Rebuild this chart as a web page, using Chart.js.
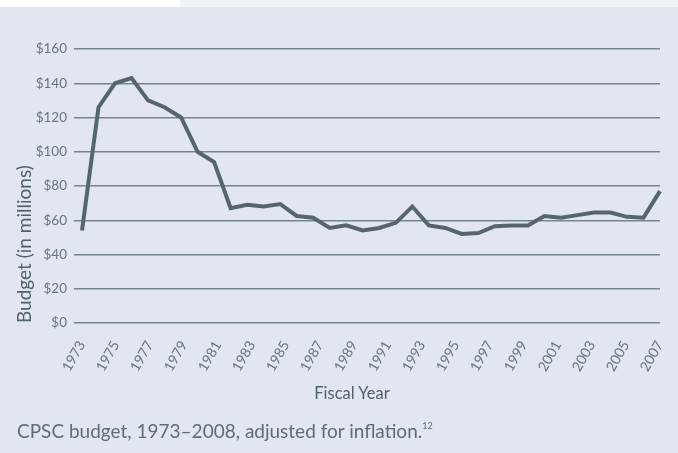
<!DOCTYPE html>
<html>
<head>
<meta charset="utf-8">
<script src="https://cdn.jsdelivr.net/npm/chart.js@4"></script>
<style>
  body { margin: 0; background: #e2e6ee; font-family: Lato, "Open Sans", sans-serif; }
  #wrap { position: relative; width: 678px; height: 453px; overflow: hidden; }
  #strip-white { position: absolute; left: 0; top: 0; width: 180px; height: 7px; background: #ffffff; }
  #strip-light { position: absolute; left: 180px; top: 0; width: 498px; height: 7px; background: #eff2f6; }
  #chart { position: absolute; left: 0; top: 0; }
  #xtitle { position: absolute; left: 292px; width: 120px; top: 383px; text-align: center;
            font-size: 16.5px; color: #50626a; }
  #caption { position: absolute; left: 17px; top: 419px; font-size: 19px; color: #5e6e75; }
  #caption sup { font-size: 9px; vertical-align: 9px; }
</style>
</head>
<body>
<div id="wrap">
  <div id="strip-white"></div>
  <div id="strip-light"></div>
  <canvas id="chart" width="678" height="453"></canvas>
  <div id="xtitle">Fiscal Year</div>
  <div id="caption">CPSC budget, 1973–2008, adjusted for inflation.<sup>12</sup></div>
</div>
<script>
// fiscal years in the series
const years = [
  "1973", "1974", "1975", "1976", "1977", "1978", "1979", "1980", "1981", "1982",
  "1983", "1984", "1985", "1986", "1987", "1988", "1989", "1990", "1991", "1992",
  "1993", "1994", "1995", "1996", "1997", "1998", "1999", "2000", "2001", "2002",
  "2003", "2004", "2005", "2006", "2007", "2008"
];

// budget in millions of dollars (inflation adjusted)
const budget = [
  54, 126, 140, 143, 130, 126, 120, 100, 94, 67,
  69, 68, 69.5, 62.5, 61.5, 55.5, 57, 54, 55.5, 58.5,
  68, 57, 55.5, 52, 52.5, 56.5, 57, 57, 62.5, 61.5,
  63, 64.5, 64.5, 62, 61.5, 77
];

// labels shown under the axis
const tickYears = [1973, 1975, 1977, 1979, 1981, 1983, 1985, 1987, 1989,
  1991, 1993, 1995, 1997, 1999, 2001, 2003, 2005, 2007];

const yTicks = [0, 20, 40, 60, 80, 100, 120, 140, 160];

const inkColor = "#56676c";
const tickColor = "#66767c";
const gridColor = "#74858b";

new Chart(document.getElementById("chart"), {
  type: "line",
  data: {
    labels: years,
    datasets: [
      {
        label: "Budget",
        data: budget,
        borderColor: inkColor,
        borderWidth: 4,
        pointRadius: 0,
        tension: 0,
        fill: false,
        xAxisID: "x",
        yAxisID: "y"
      }
    ]
  },
  options: {
    responsive: false,
    animation: false,
    layout: {
      padding: { top: 49, right: 18, left: 0, bottom: 0 }
    },
    plugins: {
      legend: { display: false },
      tooltip: { enabled: false }
    },
    scales: {
      x: {
        type: "category",
        display: false,
        offset: false
      },
      // year labels, spread across the plot width like the original
      x2: {
        type: "linear",
        position: "bottom",
        min: 1973,
        max: 2007,
        afterBuildTicks: (axis) => {
          axis.ticks = tickYears.map((v) => ({ value: v }));
        },
        afterFit: (axis) => {
          axis.height = 130;
          axis.paddingLeft = 0;
          axis.paddingRight = 0;
        },
        grid: { display: false, drawTicks: false },
        border: { display: false },
        ticks: {
          autoSkip: false,
          minRotation: 60,
          maxRotation: 60,
          padding: 15,
          color: tickColor,
          font: { family: "Lato", size: 14 },
          callback: (v) => String(v)
        }
      },
      y: {
        min: 0,
        max: 160,
        afterBuildTicks: (axis) => {
          axis.ticks = yTicks.map((v) => ({ value: v }));
        },
        afterFit: (axis) => {
          axis.width = 82;
        },
        border: { display: false },
        grid: {
          color: gridColor,
          lineWidth: 1.5,
          drawTicks: true,
          tickLength: 8
        },
        ticks: {
          padding: 7,
          color: tickColor,
          font: { family: "Lato", size: 13.5 },
          callback: (v) => "$" + v
        },
        title: {
          display: true,
          text: "Budget (in millions)",
          align: "start",
          color: "#50626a",
          font: { family: "Lato", size: 19 },
          padding: { top: 13, bottom: 0 }
        }
      }
    }
  }
});
</script>
</body>
</html>
